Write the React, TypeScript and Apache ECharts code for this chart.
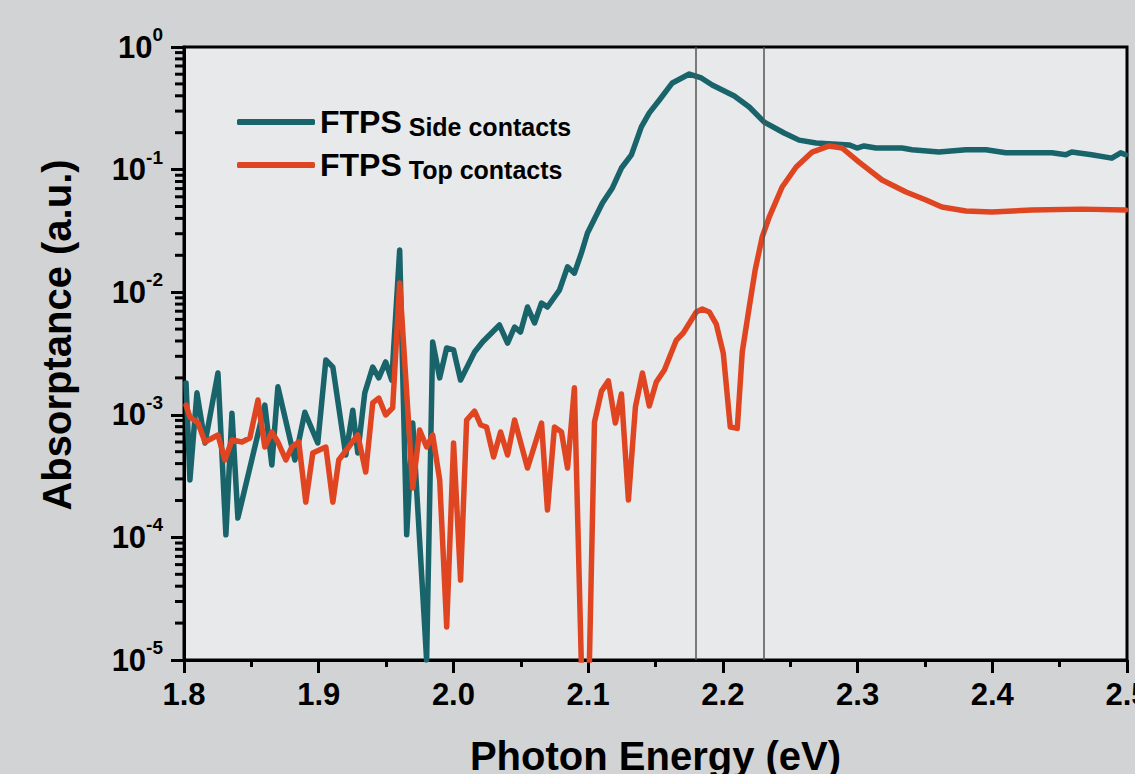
import React, { useEffect, useRef } from "react";
import * as echarts from "echarts";

const FONT = "'Liberation Sans', Arial, Helvetica, sans-serif";

const SERIES_NAMES = ["FTPS Side contacts", "FTPS Top contacts"];
const SERIES_COLORS = ["#19636a", "#e04522"];
const X_TITLE = "Photon Energy (eV)";
const Y_TITLE = "Absorptance (a.u.)";

// Photon energy (eV), absorptance (a.u.)
const sideContacts: [number, number][] = [
  [1.8015, 1.82e-3], [1.8044, 2.94e-4], [1.8096, 1.51e-3], [1.8156, 5.89e-4],
  [1.8252, 2.19e-3], [1.8311, 1.05e-4], [1.8356, 1.03e-3], [1.84, 1.44e-4],
  [1.86, 1.2e-3], [1.8652, 3.9e-4], [1.8697, 1.69e-3], [1.8823, 4.28e-4],
  [1.8897, 1.05e-3], [1.8993, 5.89e-4], [1.9053, 2.8e-3], [1.9105, 2.45e-3],
  [1.9201, 4.7e-4], [1.9253, 1.09e-3], [1.929, 4.88e-4], [1.9342, 1.51e-3],
  [1.9401, 2.45e-3], [1.9446, 2.0e-3], [1.9497, 2.7e-3], [1.9542, 1.92e-3],
  [1.9601, 2.21e-2], [1.9653, 1.05e-4], [1.9698, 8.57e-4], [1.9801, 1.0e-5],
  [1.9846, 3.92e-3], [1.9898, 2.0e-3], [1.995, 3.51e-3], [2.0001, 3.38e-3],
  [2.0053, 1.92e-3], [2.0157, 3.25e-3], [2.0216, 3.92e-3], [2.0342, 5.4e-3],
  [2.0402, 3.85e-3], [2.0454, 5.2e-3], [2.0498, 4.73e-3], [2.055, 7.57e-3],
  [2.0602, 5.61e-3], [2.0654, 8.16e-3], [2.0698, 7.57e-3], [2.0787, 1.04e-2],
  [2.0847, 1.61e-2], [2.0898, 1.43e-2], [2.095, 2.09e-2], [2.0995, 3.04e-2],
  [2.1106, 5.34e-2], [2.118, 7.08e-2], [2.1247, 0.103], [2.1321, 0.132],
  [2.1395, 0.223], [2.1454, 0.29], [2.1529, 0.37], [2.1625, 0.509],
  [2.1751, 0.602], [2.184, 0.559], [2.1921, 0.49], [2.2085, 0.398],
  [2.2196, 0.324], [2.2307, 0.244], [2.2455, 0.199], [2.2566, 0.174],
  [2.2692, 0.165], [2.2937, 0.159], [2.2996, 0.15], [2.3048, 0.156],
  [2.3137, 0.15], [2.333, 0.15], [2.3404, 0.145], [2.3604, 0.139],
  [2.3804, 0.145], [2.3953, 0.145], [2.4101, 0.137], [2.4442, 0.137],
  [2.4546, 0.132], [2.459, 0.139], [2.4738, 0.132], [2.4887, 0.124],
  [2.4953, 0.137], [2.499, 0.132],
];

const topContacts: [number, number][] = [
  [1.8015, 1.2e-3], [1.8044, 9.59e-4], [1.8104, 8.57e-4], [1.8156, 6.0e-4],
  [1.8252, 6.84e-4], [1.8304, 4.28e-4], [1.8356, 6.23e-4], [1.843, 6.0e-4],
  [1.8489, 6.47e-4], [1.8549, 1.32e-3], [1.86, 5.46e-4], [1.8652, 7.24e-4],
  [1.8697, 6.0e-4], [1.8756, 4.28e-4], [1.8801, 5.46e-4], [1.8852, 6.0e-4],
  [1.8904, 1.94e-4], [1.8956, 4.88e-4], [1.9053, 5.46e-4], [1.9105, 1.94e-4],
  [1.9149, 4.28e-4], [1.929, 6.84e-4], [1.9349, 3.41e-4], [1.9401, 1.25e-3],
  [1.9446, 1.37e-3], [1.9497, 9.96e-4], [1.9549, 1.14e-3], [1.9601, 1.19e-2],
  [1.9698, 2.53e-4], [1.9749, 7.51e-4], [1.9801, 5.46e-4], [1.9846, 6.84e-4],
  [1.9898, 2.94e-4], [1.995, 1.86e-5], [2.0001, 5.89e-4], [2.0053, 4.49e-5],
  [2.0098, 9.07e-4], [2.0157, 1.07e-3], [2.0202, 8.26e-4], [2.0246, 7.95e-4],
  [2.0298, 4.53e-4], [2.035, 7.24e-4], [2.0402, 4.7e-4], [2.0454, 9.07e-4],
  [2.055, 3.68e-4], [2.0654, 8.57e-4], [2.0698, 1.67e-4], [2.075, 7.95e-4],
  [2.0802, 7.24e-4], [2.0847, 3.68e-4], [2.0898, 1.66e-3], [2.0958, 4e-6],
  [2.1002, 4e-6], [2.1047, 8.73e-4], [2.1099, 1.56e-3], [2.115, 1.89e-3],
  [2.1202, 8.57e-4], [2.1247, 1.48e-3], [2.1299, 2.02e-4], [2.1351, 1.16e-3],
  [2.1403, 2.19e-3], [2.1454, 1.18e-3], [2.1506, 1.85e-3], [2.1566, 2.32e-3],
  [2.1655, 4.07e-3], [2.1706, 4.65e-3], [2.1803, 6.9e-3], [2.1847, 7.29e-3],
  [2.1899, 6.9e-3], [2.1951, 5.5e-3], [2.2003, 3.19e-3], [2.2055, 7.95e-4],
  [2.2107, 7.75e-4], [2.2144, 3.25e-3], [2.2196, 7.57e-3], [2.224, 1.52e-2],
  [2.2292, 2.82e-2], [2.2344, 4.1e-2], [2.244, 7.21e-2], [2.2544, 0.105],
  [2.2663, 0.139], [2.2789, 0.156], [2.2885, 0.15], [2.3011, 0.115],
  [2.3182, 0.0823], [2.336, 0.0657], [2.3508, 0.0565], [2.3626, 0.0495],
  [2.3804, 0.046], [2.3997, 0.0451], [2.4294, 0.0468], [2.4664, 0.0476],
  [2.499, 0.0468],
];

const MARKER_ENERGIES = [2.183, 2.23];

const X_MIN = 1.8;
const X_MAX = 2.5;
const X_STEP = 0.1;
const Y_MIN = 1e-5;
const Y_MAX = 1;
const LOG_DECADES = [1e-5, 1e-4, 1e-3, 1e-2, 1e-1];
const MINOR_MULTIPLIERS = [2, 3, 4, 5, 6, 7, 8, 9];

const minorTickValues: [number, number][] = [];
LOG_DECADES.forEach((d) =>
  MINOR_MULTIPLIERS.forEach((m) => minorTickValues.push([X_MIN, d * m]))
);

export default function App() {
  const ref = useRef<HTMLDivElement>(null);

  useEffect(() => {
    if (!ref.current) return;
    const chart = echarts.init(ref.current, null, { renderer: "svg" });

    const labelBase = {
      fontFamily: FONT,
      fontWeight: "bold" as const,
      color: "#000",
    };

    const option: any = {
      animation: false,
      backgroundColor: "#d2d3d5",
      textStyle: { fontFamily: FONT },
      grid: {
        left: 184,
        top: 47,
        right: 8,
        bottom: 114,
        show: true,
        containLabel: false,
        outerBoundsMode: "none",
        backgroundColor: "#e8e9eb",
        borderColor: "#000",
        borderWidth: 3,
      },
      graphic: [
        {
          type: "text",
          x: 57,
          y: 335,
          rotation: Math.PI / 2,
          silent: true,
          style: {
            text: Y_TITLE,
            fontFamily: FONT,
            fontWeight: "bold",
            fontSize: 40,
            fill: "#000",
            align: "center",
            verticalAlign: "middle",
          },
        },
      ],
      legend: {
        data: SERIES_NAMES.map((n) => ({ name: n, icon: "roundRect" })),
        orient: "vertical",
        left: 237,
        top: 106,
        padding: 0,
        itemWidth: 78,
        itemHeight: 6,
        itemGap: 10,
        selectedMode: false,
        formatter: (name: string) => `{a|FTPS}{b| ${name.slice(5)}}`,
        textStyle: {
          rich: {
            a: { ...labelBase, fontSize: 32, lineHeight: 34 },
            b: {
              ...labelBase,
              fontSize: 25,
              lineHeight: 24,
              verticalAlign: "bottom",
            },
          },
        },
      },
      xAxis: {
        type: "value",
        min: X_MIN,
        max: X_MAX,
        interval: X_STEP,
        name: X_TITLE,
        nameLocation: "middle",
        nameGap: 76,
        nameTextStyle: { ...labelBase, fontSize: 40 },
        axisLine: { lineStyle: { color: "#000", width: 3 } },
        axisTick: { length: 13, lineStyle: { color: "#000", width: 3 } },
        minorTick: {
          show: true,
          splitNumber: 2,
          length: 7,
          lineStyle: { color: "#000", width: 3 },
        },
        splitLine: { show: false },
        minorSplitLine: { show: false },
        axisLabel: {
          ...labelBase,
          fontSize: 31,
          margin: 19,
          formatter: (v: number) => v.toFixed(1),
        },
      },
      yAxis: {
        type: "log",
        logBase: 10,
        min: Y_MIN,
        max: Y_MAX,
        axisLine: { lineStyle: { color: "#000", width: 3 } },
        axisTick: { length: 13, lineStyle: { color: "#000", width: 3 } },
        splitLine: { show: false },
        axisLabel: {
          margin: 21,
          formatter: (v: number) => `{b|10}{s|${Math.round(Math.log10(v))}}`,
          rich: {
            b: { ...labelBase, fontSize: 31, lineHeight: 44 },
            s: { ...labelBase, fontSize: 19, lineHeight: 18, verticalAlign: "top" },
          },
        },
      },
      series: [
        {
          type: "line",
          name: "markers",
          data: [],
          z: 1,
          silent: true,
          markLine: {
            silent: true,
            symbol: "none",
            label: { show: false },
            lineStyle: { color: "#555", width: 1.5, type: "solid" },
            data: MARKER_ENERGIES.map((x) => ({ xAxis: x })),
          },
        },
        {
          type: "line",
          name: SERIES_NAMES[0],
          data: sideContacts,
          showSymbol: false,
          symbol: "none",
          color: SERIES_COLORS[0],
          lineStyle: { width: 5.5, color: SERIES_COLORS[0], cap: "round", join: "round" },
          z: 3,
        },
        {
          type: "line",
          name: SERIES_NAMES[1],
          data: topContacts,
          showSymbol: false,
          symbol: "none",
          color: SERIES_COLORS[1],
          lineStyle: { width: 5.5, color: SERIES_COLORS[1], cap: "round", join: "round" },
          z: 4,
        },
        {
          type: "custom",
          name: "yMinorTicks",
          silent: true,
          clip: false,
          z: 5,
          data: minorTickValues,
          encode: { x: 0, y: 1 },
          renderItem: (_params: any, api: any) => {
            const p = api.coord([api.value(0), api.value(1)]);
            return {
              type: "line",
              shape: { x1: p[0] - 9, y1: p[1], x2: p[0], y2: p[1] },
              style: { stroke: "#000", lineWidth: 3 },
            };
          },
        },
      ],
    };

    chart.setOption(option);
    return () => chart.dispose();
  }, []);

  return (
    <div
      ref={ref}
      style={{ position: "fixed", left: 0, top: 0, width: 1135, height: 774 }}
    />
  );
}
